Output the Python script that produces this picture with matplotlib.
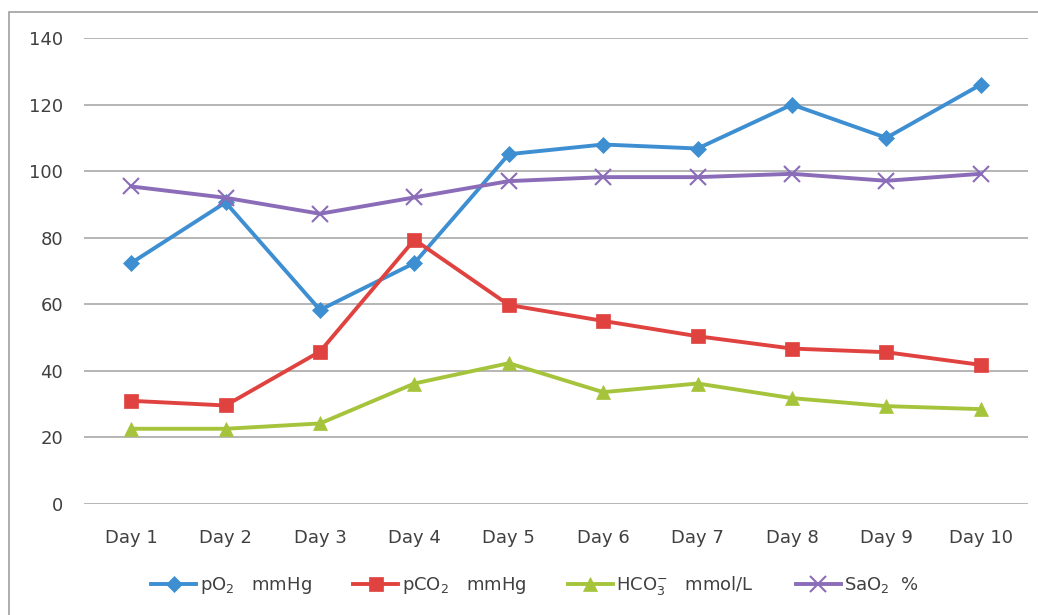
import matplotlib
matplotlib.use('Agg')
import matplotlib.pyplot as plt
from matplotlib.patches import Rectangle

plt.rcParams['font.family'] = ['DejaVu Sans']
plt.rcParams['mathtext.fontset'] = 'dejavusans'

days = ['Day 1', 'Day 2', 'Day 3', 'Day 4', 'Day 5',
        'Day 6', 'Day 7', 'Day 8', 'Day 9', 'Day 10']
po2 = [72.4, 90.6, 58.3, 72.4, 105.1, 108, 106.8, 120, 110, 126]
pco2 = [31, 29.6, 45.8, 79.4, 59.8, 55, 50.4, 46.7, 45.6, 41.8]
hco3 = [22.6, 22.6, 24.2, 36.2, 42.3, 33.6, 36.2, 31.8, 29.4, 28.5]
sao2 = [95.4, 92, 87.2, 92.1, 97, 98.2, 98.2, 99.2, 97.1, 99.2]

labels = ['pO$_2$   mmHg', 'pCO$_2$   mmHg', 'HCO$_3^{-}$   mmol/L', 'SaO$_2$  %']
colors = ['#3d8fd2', '#e0433f', '#a6c43b', '#8b6cb8']
markers = ['D', 's', '^', 'x']
msizes = [8, 10, 10, 11]

fig = plt.figure(figsize=(10.38, 6.15), dpi=100)
# outer chart border (only left and top edges are visible in the crop)
fig.patches.append(Rectangle((9 / 1038, -0.1), 1.2, 1 - 12 / 615 + 0.1,
                             transform=fig.transFigure, fill=False,
                             edgecolor='#a0a0a0', linewidth=1.2))
ax = fig.add_axes([84 / 1038, 1 - 504 / 615, 944 / 1038, 466 / 615])

x = range(len(days))
series = [po2, pco2, hco3, sao2]
for vals, lab, c, m, ms in zip(series, labels, colors, markers, msizes):
    ax.plot(x, vals, color=c, marker=m, markersize=ms, linewidth=2.8,
            markeredgewidth=1.5 if m == 'x' else 0.5, markeredgecolor=c, label=lab)

ax.set_xlim(-0.5, len(days) - 0.5)
ax.set_ylim(0, 140)
ax.set_yticks(range(0, 141, 20))
ax.set_xticks(list(x))
ax.set_xticklabels(days)
ax.yaxis.grid(True, color='#b0b0b0', linewidth=1.3)
ax.set_axisbelow(True)
for s in ax.spines.values():
    s.set_visible(False)
ax.tick_params(length=0, labelsize=13, colors='#404040')
ax.tick_params(axis='y', pad=15)
ax.tick_params(axis='x', pad=18)

fig.legend(loc='center', bbox_to_anchor=(0.5155, 0.048), ncol=4, frameon=False,
           fontsize=13, handlelength=2.5, columnspacing=2.3, handletextpad=0.2,
           labelcolor='#404040')

fig.savefig('out.png', dpi=100)
